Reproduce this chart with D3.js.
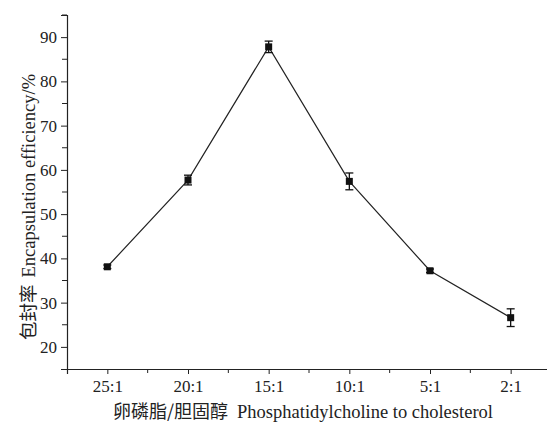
<!DOCTYPE html>
<html>
<head>
<meta charset="utf-8">
<script src="https://cdn.jsdelivr.net/npm/d3@7"></script>
<style>
  body { margin: 0; background: #fff; }
  text { font-family: "Liberation Serif", "Times New Roman", serif; fill: #222; }
  .cjk { font-family: "Noto Sans CJK SC", sans-serif; }
</style>
</head>
<body>
<div id="chart"></div>
<script>
// 卵磷脂/胆固醇 比例
const ratios = ['25:1', '20:1', '15:1', '10:1', '5:1', '2:1']
// 包封率 (%)
const efficiency = [38.1, 57.7, 87.8, 57.4, 37.2, 26.6]
// 误差
const errors = [0.4, 1.1, 1.3, 1.9, 0.4, 2.0]
const yTicks = [20, 30, 40, 50, 60, 70, 80, 90]

const width = 547
const height = 423
const margin = { left: 67, top: 15, bottom: 369 }

const svg = d3.select('#chart').append('svg')
  .attr('width', width)
  .attr('height', height)

// x 比例尺：每个类别占一格，左边留半格
const x = d3.scaleLinear().domain([-0.5, 5.5]).range([margin.left, 551])
const y = d3.scaleLinear().domain([15, 95]).range([margin.bottom, margin.top])

// 坐标轴
const xAxis = svg.append('g')
  .attr('transform', `translate(0,${margin.bottom})`)
  .call(d3.axisBottom(x)
    .tickValues(d3.range(ratios.length))
    .tickFormat(i => ratios[i])
    .tickSizeOuter(0)
    .tickSize(5)
    .tickPadding(6))
// 次刻度
xAxis.selectAll('.minor')
  .data(d3.range(ratios.length).map(i => i + 0.5))
  .enter().append('line')
  .attr('x1', d => x(d)).attr('x2', d => x(d))
  .attr('y1', 0).attr('y2', 4)
  .attr('stroke', '#222')

const yAxis = svg.append('g')
  .attr('transform', `translate(${margin.left},0)`)
  .call(d3.axisLeft(y)
    .tickValues(yTicks)
    .tickSizeOuter(0)
    .tickSize(6)
    .tickPadding(4))
yAxis.selectAll('.minor')
  .data(yTicks.map(v => v + 5))
  .enter().append('line')
  .attr('x1', 0).attr('x2', -5)
  .attr('y1', d => y(d)).attr('y2', d => y(d))
  .attr('stroke', '#222')

svg.selectAll('.domain').attr('stroke', '#222').attr('stroke-width', 1.2)
svg.selectAll('.tick line').attr('stroke', '#222')
svg.selectAll('.tick text')
  .style('font-family', '"Liberation Serif", serif')
  .style('font-size', '17px')
  .attr('fill', '#222')

// 折线
const line = d3.line()
  .x((d, i) => x(i))
  .y(d => y(d))
svg.append('path')
  .datum(efficiency)
  .attr('d', line)
  .attr('fill', 'none')
  .attr('stroke', '#222')
  .attr('stroke-width', 1.2)

// 误差棒
const eb = svg.append('g').attr('stroke', '#111').attr('stroke-width', 1.3)
efficiency.forEach((v, i) => {
  const cx = x(i)
  const y1 = y(v + errors[i])
  const y2 = y(v - errors[i])
  eb.append('line').attr('x1', cx).attr('x2', cx).attr('y1', y1).attr('y2', y2)
  eb.append('line').attr('x1', cx - 4).attr('x2', cx + 4).attr('y1', y1).attr('y2', y1)
  eb.append('line').attr('x1', cx - 4).attr('x2', cx + 4).attr('y1', y2).attr('y2', y2)
})

// 方形标记
svg.selectAll('rect.pt')
  .data(efficiency)
  .enter().append('rect')
  .attr('class', 'pt')
  .attr('x', (d, i) => x(i) - 3.5)
  .attr('y', d => y(d) - 3.5)
  .attr('width', 7)
  .attr('height', 7)
  .attr('fill', '#111')

// x 轴标题
const xt = svg.append('text')
  .attr('x', 113)
  .attr('y', 418)
  .style('font-size', '18.5px')
xt.append('tspan').attr('class', 'cjk').style('font-size', '18px').text('卵磷脂/胆固醇')
xt.append('tspan').attr('dx', 9).text('Phosphatidylcholine to cholesterol')

// y 轴标题
const yt = svg.append('text')
  .attr('transform', 'translate(35,207) rotate(-90)')
  .attr('text-anchor', 'middle')
  .style('font-size', '18.5px')
yt.append('tspan').attr('class', 'cjk').text('包封率')
yt.append('tspan').attr('dx', 7).text('Encapsulation efficiency/%')
</script>
</body>
</html>
